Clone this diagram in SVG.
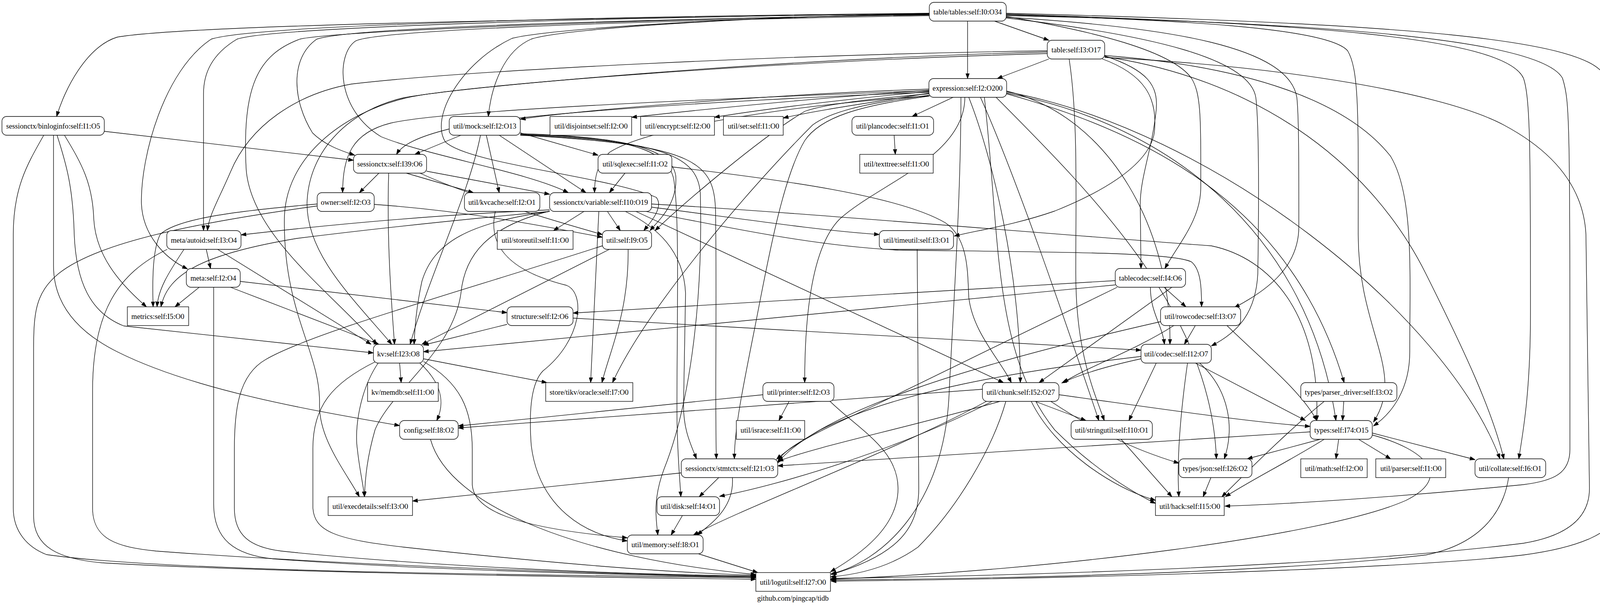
<svg xmlns="http://www.w3.org/2000/svg" width="4135" height="1548" viewBox="0 0 4135 1548">
<style>
.n rect{fill:#fff;stroke:#000;stroke-width:1.33}
.n text,.lbl{font-family:"Liberation Serif","Times New Roman",serif;font-size:18.67px;text-anchor:middle;fill:#000}
#edges path{fill:none;stroke:#000;stroke-width:1.33;marker-end:url(#ah)}
</style>
<defs>
<marker id="ah" viewBox="0 0 14 10" refX="13.3" refY="5" markerWidth="14" markerHeight="10" markerUnits="userSpaceOnUse" orient="auto">
<path d="M0,0.33 L13.3,5 L0,9.67 z" fill="#000" stroke="#000" stroke-width="1"/>
</marker>
</defs>
<rect x="0" y="0" width="4135" height="1548" fill="#fff"/>
<g id="edges">
<path d="M2546 54 L2685 103"/>
<path d="M2477 54 L2477 201"/>
<path d="M2379 34 C1700 45 500 60 300 95 C220 120 165 230 145 298"/>
<path d="M2379 36 C2000 40 1450 70 1360 100 C1290 130 1258 220 1250 298"/>
<path d="M2379 38 C1600 50 900 70 811 100 C740 150 750 260 800 340 C830 370 870 385 908 397"/>
<path d="M2379 40 C1500 55 960 80 910 105 C860 140 860 280 976 350 C1100 400 1350 440 1455 493"/>
<path d="M2379 35 C1500 45 700 70 607 100 C540 140 521 190 521 240 L521 590"/>
<path d="M2379 34 C1500 42 650 65 541 100 C420 180 360 400 362 520 C365 600 420 660 480 688"/>
<path d="M2379 37 C1600 50 850 80 768 100 C660 140 620 220 630 430 C640 600 850 750 965 881"/>
<path d="M2379 36 C2000 40 1420 70 1311 98 C1180 160 1100 300 1140 363 C1200 420 1550 450 1680 505 C1700 530 1665 570 1648 590"/>
<path d="M2576 42 C2800 80 3000 130 3050 200 C3075 240 3074 300 3074 480 C3074 560 3020 620 2982 687"/>
<path d="M2576 44 C3000 70 3300 120 3320 250 C3325 300 3325 400 3325 580 C3325 680 3250 740 3160 787"/>
<path d="M2576 46 C2950 90 3200 150 3215 250 C3223 320 3223 500 3220 700 C3215 800 3170 850 3101 885"/>
<path d="M2576 38 C3000 50 3400 70 3450 130 C3480 180 3477 300 3477 600 C3477 850 3600 950 3516 1080"/>
<path d="M2576 36 C3300 60 3850 90 3900 200 C3918 250 3918 400 3918 800 C3918 1000 3900 1100 3888 1174"/>
<path d="M2576 34 C3600 60 4080 100 4110 200 C4128 260 4130 320 4130 1320 C4130 1360 4050 1400 3900 1420 C3600 1455 2800 1480 2128 1487"/>
<path d="M2576 40 C3500 60 3950 110 4000 200 C4019 260 4019 300 4019 1150 C4019 1210 3980 1230 3900 1240 C3600 1270 3300 1290 3136 1295"/>
<path d="M2685 151 L2553 201"/>
<path d="M2681 130 C2000 140 1200 180 900 215 C760 240 640 320 590 440 C560 510 535 550 531 590"/>
<path d="M2681 133 C2000 150 1200 220 1034 250 C900 280 790 380 786 520 C785 650 900 760 1003 881"/>
<path d="M2681 137 C2000 155 1150 220 1034 252 C880 290 730 400 728 560 C725 800 820 900 818 1032 C815 1120 880 1200 920 1271"/>
<path d="M2820 150 C2930 190 2965 250 2955 340 C2940 430 2800 500 2700 540 C2600 575 2500 590 2443 604"/>
<path d="M2828 143 C2940 180 2965 220 2960 280 C2950 380 2920 450 2919 520 L2921 687"/>
<path d="M2828 147 C3300 170 3700 240 3850 320 C4000 400 4055 500 4060 600 L4069 1250 C4069 1320 4020 1370 3900 1390 C3500 1440 2800 1470 2128 1480"/>
<path d="M2828 145 C3200 200 3500 400 3650 700 C3750 900 3820 1050 3850 1175"/>
<path d="M2737 151 C2760 300 2754 500 2754 700 C2754 900 2800 1000 2827 1076"/>
<path d="M2828 142 C3200 170 3450 260 3560 400 C3620 500 3609 700 3609 900 C3609 1000 3560 1060 3516 1090"/>
<path d="M2378 228 C2000 240 1500 280 1332 305"/>
<path d="M2378 231 C2100 250 1800 280 1617 300"/>
<path d="M2378 234 C2150 255 1950 280 1829 300"/>
<path d="M2380 238 C2250 260 2100 280 2005 302"/>
<path d="M2378 232 C1900 250 1150 280 1000 315 C900 340 878 400 877 493"/>
<path d="M2378 236 C1900 255 1300 290 1150 330 C1070 350 1030 370 1015 395"/>
<path d="M2385 245 C2000 270 1650 330 1560 390 C1530 420 1522 450 1522 493"/>
<path d="M2378 240 C2200 255 2100 270 2060 285 C1950 350 1750 520 1677 590"/>
<path d="M2378 244 C2200 265 2120 290 2080 320 C1900 500 1650 800 1568 979"/>
<path d="M2470 249 C2470 400 2250 470 2150 560 C2070 640 2060 850 2060 979"/>
<path d="M2480 249 C2540 400 2612 700 2612 979"/>
<path d="M2510 249 C2600 450 2720 800 2813 1076"/>
<path d="M2550 249 C2800 500 3100 800 3114 1174"/>
<path d="M2577 240 C2900 330 3300 500 3441 979"/>
<path d="M2577 238 C3000 320 3350 600 3420 1076"/>
<path d="M2577 233 C2850 300 3000 600 2995 881"/>
<path d="M2577 235 C3100 330 3700 800 3840 1174"/>
<path d="M2520 249 C2560 600 2540 900 2700 1100 C2800 1200 2900 1260 2958 1288"/>
<path d="M2378 246 C2200 270 2100 300 2060 360 C2000 460 1960 700 1930 850 C1900 1000 1880 1100 1880 1174"/>
<path d="M2460 249 C2460 500 2440 800 2430 1000 C2420 1300 2250 1440 2128 1468"/>
<path d="M2440 249 L2335 298"/>
<path d="M267 336 L905 410"/>
<path d="M112 346 C70 420 34 480 34 600 L34 1300 C34 1360 70 1400 119 1419 C400 1460 1200 1470 1935 1478"/>
<path d="M137 346 L137 680 C137 780 200 850 300 900 C500 1000 800 1050 1023 1089"/>
<path d="M146 346 C170 420 187 480 190 600 C195 720 230 800 317 834 L956 903"/>
<path d="M165 346 C210 420 237 470 240 560 C245 650 300 720 375 785"/>
<path d="M1180 346 L1062 395"/>
<path d="M1332 340 L1531 397"/>
<path d="M1245 346 L1278 493"/>
<path d="M1278 346 L1500 493"/>
<path d="M1230 346 C1200 500 1100 700 1050 881"/>
<path d="M1332 342 C1600 350 1720 380 1730 450 C1735 520 1690 560 1664 590"/>
<path d="M1332 344 C1600 350 1710 380 1725 460 C1740 560 1733 800 1733 1050 C1733 1150 1740 1220 1743 1271"/>
<path d="M1332 345 C1700 360 1790 400 1793 500 C1800 800 1760 1050 1700 1200 C1670 1280 1680 1330 1684 1369"/>
<path d="M1332 346 C1800 370 1830 420 1832 550 C1835 800 1830 1050 1834 1174"/>
<path d="M2289 346 L2292 395"/>
<path d="M970 443 L920 493"/>
<path d="M1040 443 L1212 493"/>
<path d="M1092 438 L1407 497"/>
<path d="M1075 443 C1200 500 1400 560 1542 600"/>
<path d="M995 443 C990 600 1000 750 1010 881"/>
<path d="M1600 443 L1560 493"/>
<path d="M1720 427 C2000 460 2300 500 2420 570 C2480 610 2477 700 2480 760 C2490 850 2560 920 2589 979"/>
<path d="M958 523 C1200 540 1400 580 1542 607"/>
<path d="M812 522 C600 540 450 560 410 600 C390 640 390 720 392 785"/>
<path d="M812 527 C500 570 250 620 150 700 C90 750 86 800 86 900 L86 1320 C86 1400 150 1430 260 1440 C600 1460 1300 1475 1935 1482"/>
<path d="M1268 541 C1250 620 1290 690 1450 730 C1500 750 1490 870 1390 949 C1350 990 1357 1100 1360 1140 C1380 1300 1500 1370 1606 1384"/>
<path d="M1407 537 C1100 550 800 580 617 601"/>
<path d="M1407 541 C1200 560 1000 580 760 610 C520 650 430 700 412 785"/>
<path d="M1495 541 L1417 590"/>
<path d="M1555 541 L1588 590"/>
<path d="M1668 530 C1900 560 2100 590 2251 600"/>
<path d="M1407 541 C1200 570 1110 620 1080 720 C1065 790 1062 840 1060 881"/>
<path d="M1533 541 L1512 979"/>
<path d="M1628 541 L2569 979"/>
<path d="M1601 541 C1680 580 1750 640 1755 750 L1750 1030 C1748 1100 1770 1140 1783 1174"/>
<path d="M1407 540 C1250 580 1190 650 1180 750 C1160 900 1000 1000 960 1100 C940 1170 935 1220 933 1271"/>
<path d="M1654 541 C1900 590 2100 630 2300 640 C2700 645 3000 645 3050 670 C3075 690 3076 740 3076 785"/>
<path d="M1668 522 C2000 540 2700 600 3101 629 C3250 660 3380 800 3371 1076"/>
<path d="M1560 638 L1080 881"/>
<path d="M1608 638 C1610 800 1560 900 1541 979"/>
<path d="M1542 629 C1200 740 800 850 680 920 C610 960 600 1050 600 1150 L600 1300 C600 1370 640 1400 720 1410 C1100 1450 1600 1470 1935 1474"/>
<path d="M471 638 C430 700 405 740 402 785"/>
<path d="M528 638 L539 687"/>
<path d="M557 638 L950 881"/>
<path d="M428 638 C300 700 237 800 237 1000 L237 1300 C237 1380 300 1400 400 1410 C800 1440 1400 1465 1935 1476"/>
<path d="M510 735 L448 785"/>
<path d="M590 735 L970 881"/>
<path d="M615 720 L1298 800"/>
<path d="M547 735 L547 1290 C547 1380 600 1420 700 1430 C1100 1460 1600 1470 1935 1478"/>
<path d="M2348 638 L2352 1250 C2352 1350 2300 1420 2128 1470"/>
<path d="M2855 729 L1084 900"/>
<path d="M2855 718 L1467 801"/>
<path d="M2980 735 L3036 785"/>
<path d="M2945 735 C2945 800 2975 830 2981 881"/>
<path d="M2860 735 L2250 1032 C2150 1080 2050 1120 1988 1175"/>
<path d="M3000 735 L2660 979"/>
<path d="M1298 830 L1084 883"/>
<path d="M1467 814 L2921 896"/>
<path d="M3060 833 L3032 881"/>
<path d="M3005 833 C2900 900 2780 940 2722 979"/>
<path d="M3141 833 C3230 920 3330 1000 3371 1076"/>
<path d="M2971 823 C2500 930 2100 1050 1990 1185"/>
<path d="M1023 929 L1027 979"/>
<path d="M1084 918 L1400 979"/>
<path d="M1075 929 C1130 980 1140 1030 1118 1076"/>
<path d="M968 929 C920 1000 907 1100 915 1150 C920 1200 930 1240 933 1271"/>
<path d="M1084 925 C1180 980 1209 1050 1209 1150 L1209 1240 C1212 1300 1300 1350 1606 1376"/>
<path d="M962 925 C850 980 800 1040 801 1150 L801 1300 C805 1360 860 1380 1034 1400 C1400 1440 1700 1465 1935 1472"/>
<path d="M2921 918 C2820 940 2760 960 2718 980"/>
<path d="M2960 929 L2890 1076"/>
<path d="M3060 929 L3342 1076"/>
<path d="M3040 929 C3030 1000 3010 1150 3018 1271"/>
<path d="M2921 912 C2600 950 2300 1000 2100 1100 C2050 1130 2010 1150 1992 1178"/>
<path d="M3071 929 C3150 1000 3160 1100 3134 1174"/>
<path d="M1953 1010 L1173 1090"/>
<path d="M2020 1027 L1994 1076"/>
<path d="M2125 1027 C2200 1100 2299 1150 2299 1250 C2299 1350 2200 1420 2126 1463"/>
<path d="M2515 996 L1173 1095"/>
<path d="M2650 1027 L2780 1076"/>
<path d="M2711 1010 C3000 1050 3200 1080 3354 1091"/>
<path d="M2690 1027 C2800 1100 2900 1150 3018 1185"/>
<path d="M2560 1027 C2300 1100 2100 1140 1992 1180"/>
<path d="M2540 1027 C2300 1150 2000 1240 1842 1270"/>
<path d="M2525 1027 C2300 1150 1900 1300 1775 1369"/>
<path d="M2640 1027 C2700 1150 2850 1250 2958 1280"/>
<path d="M2575 1027 C2540 1150 2450 1300 2350 1400 C2280 1450 2200 1470 2126 1476"/>
<path d="M3440 1027 L3437 1076"/>
<path d="M3390 1027 C3300 1100 3200 1200 3128 1271"/>
<path d="M2870 1124 L3000 1271"/>
<path d="M3354 1105 C3000 1130 2500 1160 1991 1192"/>
<path d="M3380 1124 L3193 1174"/>
<path d="M3427 1124 L3420 1174"/>
<path d="M3478 1124 L3560 1174"/>
<path d="M3513 1108 L3776 1176"/>
<path d="M3390 1124 C3300 1180 3200 1230 3137 1271"/>
<path d="M3513 1113 C3650 1150 3720 1220 3600 1280 C3400 1370 2700 1460 2126 1482"/>
<path d="M1744 1210 L1056 1282"/>
<path d="M1840 1222 L1790 1271"/>
<path d="M1875 1222 C1880 1300 1820 1340 1785 1369"/>
<path d="M3100 1222 L3080 1271"/>
<path d="M3862 1222 C3850 1300 3800 1390 3650 1420 C3300 1460 2700 1480 2126 1484"/>
<path d="M1747 1319 L1718 1369"/>
<path d="M1788 1417 L1940 1465"/>
<path d="M1102 1124 C1150 1300 1500 1430 1935 1470"/>
</g>
<g id="n-table-tables" class="n"><rect x="2379" y="6" width="197" height="48" rx="12"/><text x="2477" y="36.5">table/tables:self:I0:O34</text></g>
<g id="n-table" class="n"><rect x="2681" y="103" width="147" height="48" rx="12"/><text x="2755" y="133.5">table:self:I3:O17</text></g>
<g id="n-expression" class="n"><rect x="2378" y="201" width="199" height="48" rx="12"/><text x="2477" y="231.5">expression:self:I2:O200</text></g>
<g id="n-binloginfo" class="n"><rect x="5" y="298" width="262" height="48" rx="12"/><text x="136" y="328.5">sessionctx/binloginfo:self:I1:O5</text></g>
<g id="n-mock" class="n"><rect x="1150" y="298" width="182" height="48" rx="12"/><text x="1241" y="328.5">util/mock:self:I2:O13</text></g>
<g id="n-disjointset" class="n"><rect x="1408" y="298" width="209" height="48"/><text x="1513" y="328.5">util/disjointset:self:I2:O0</text></g>
<g id="n-encrypt" class="n"><rect x="1640" y="298" width="189" height="48"/><text x="1735" y="328.5">util/encrypt:self:I2:O0</text></g>
<g id="n-set" class="n"><rect x="1852" y="298" width="153" height="48"/><text x="1929" y="328.5">util/set:self:I1:O0</text></g>
<g id="n-plancodec" class="n"><rect x="2181" y="298" width="209" height="48" rx="12"/><text x="2285" y="328.5">util/plancodec:self:I1:O1</text></g>
<g id="n-sessionctx" class="n"><rect x="905" y="395" width="187" height="48" rx="12"/><text x="998" y="425.5">sessionctx:self:I39:O6</text></g>
<g id="n-sqlexec" class="n"><rect x="1531" y="395" width="189" height="48" rx="12"/><text x="1626" y="425.5">util/sqlexec:self:I1:O2</text></g>
<g id="n-texttree" class="n"><rect x="2201" y="395" width="188" height="48"/><text x="2295" y="425.5">util/texttree:self:I1:O0</text></g>
<g id="n-owner" class="n"><rect x="812" y="493" width="146" height="48" rx="12"/><text x="885" y="523.5">owner:self:I2:O3</text></g>
<g id="n-kvcache" class="n"><rect x="1189" y="493" width="193" height="48" rx="12"/><text x="1285" y="523.5">util/kvcache:self:I2:O1</text></g>
<g id="n-variable" class="n"><rect x="1407" y="493" width="261" height="48" rx="12"/><text x="1538" y="523.5">sessionctx/variable:self:I10:O19</text></g>
<g id="n-autoid" class="n"><rect x="427" y="590" width="190" height="48" rx="12"/><text x="522" y="620.5">meta/autoid:self:I3:O4</text></g>
<g id="n-storeutil" class="n"><rect x="1273" y="590" width="194" height="48"/><text x="1370" y="620.5">util/storeutil:self:I1:O0</text></g>
<g id="n-util" class="n"><rect x="1542" y="590" width="126" height="48" rx="12"/><text x="1605" y="620.5">util:self:I9:O5</text></g>
<g id="n-timeutil" class="n"><rect x="2251" y="590" width="190" height="48" rx="12"/><text x="2346" y="620.5">util/timeutil:self:I3:O1</text></g>
<g id="n-meta" class="n"><rect x="477" y="687" width="138" height="48" rx="12"/><text x="546" y="717.5">meta:self:I2:O4</text></g>
<g id="n-tablecodec" class="n"><rect x="2855" y="687" width="180" height="48" rx="12"/><text x="2945" y="717.5">tablecodec:self:I4:O6</text></g>
<g id="n-metrics" class="n"><rect x="326" y="785" width="157" height="48"/><text x="404" y="815.5">metrics:self:I5:O0</text></g>
<g id="n-structure" class="n"><rect x="1298" y="785" width="169" height="48" rx="12"/><text x="1382" y="815.5">structure:self:I2:O6</text></g>
<g id="n-rowcodec" class="n"><rect x="2971" y="785" width="205" height="48" rx="12"/><text x="3073" y="815.5">util/rowcodec:self:I3:O7</text></g>
<g id="n-kv" class="n"><rect x="956" y="881" width="128" height="48" rx="12"/><text x="1020" y="911.5">kv:self:I23:O8</text></g>
<g id="n-codec" class="n"><rect x="2921" y="881" width="180" height="48" rx="12"/><text x="3011" y="911.5">util/codec:self:I12:O7</text></g>
<g id="n-memdb" class="n"><rect x="941" y="979" width="181" height="48"/><text x="1031" y="1009.5">kv/memdb:self:I1:O0</text></g>
<g id="n-oracle" class="n"><rect x="1397" y="979" width="223" height="48"/><text x="1508" y="1009.5">store/tikv/oracle:self:I7:O0</text></g>
<g id="n-printer" class="n"><rect x="1953" y="979" width="182" height="48" rx="12"/><text x="2044" y="1009.5">util/printer:self:I2:O3</text></g>
<g id="n-chunk" class="n"><rect x="2515" y="979" width="196" height="48" rx="12"/><text x="2613" y="1009.5">util/chunk:self:I52:O27</text></g>
<g id="n-parser_driver" class="n"><rect x="3330" y="979" width="246" height="48" rx="12"/><text x="3453" y="1009.5">types/parser_driver:self:I3:O2</text></g>
<g id="n-config" class="n"><rect x="1023" y="1076" width="150" height="48" rx="12"/><text x="1098" y="1106.5">config:self:I8:O2</text></g>
<g id="n-israce" class="n"><rect x="1885" y="1076" width="175" height="48"/><text x="1973" y="1106.5">util/israce:self:I1:O0</text></g>
<g id="n-stringutil" class="n"><rect x="2742" y="1076" width="208" height="48" rx="12"/><text x="2846" y="1106.5">util/stringutil:self:I10:O1</text></g>
<g id="n-types" class="n"><rect x="3354" y="1076" width="159" height="48" rx="12"/><text x="3434" y="1106.5">types:self:I74:O15</text></g>
<g id="n-stmtctx" class="n"><rect x="1744" y="1174" width="247" height="48" rx="12"/><text x="1868" y="1204.5">sessionctx/stmtctx:self:I21:O3</text></g>
<g id="n-json" class="n"><rect x="3018" y="1174" width="187" height="48" rx="12"/><text x="3111" y="1204.5">types/json:self:I26:O2</text></g>
<g id="n-math" class="n"><rect x="3330" y="1174" width="170" height="48"/><text x="3415" y="1204.5">util/math:self:I2:O0</text></g>
<g id="n-parser" class="n"><rect x="3522" y="1174" width="179" height="48"/><text x="3612" y="1204.5">util/parser:self:I1:O0</text></g>
<g id="n-collate" class="n"><rect x="3776" y="1174" width="181" height="48" rx="12"/><text x="3866" y="1204.5">util/collate:self:I6:O1</text></g>
<g id="n-execdetails" class="n"><rect x="840" y="1271" width="216" height="48"/><text x="948" y="1301.5">util/execdetails:self:I3:O0</text></g>
<g id="n-disk" class="n"><rect x="1682" y="1271" width="160" height="48" rx="12"/><text x="1762" y="1301.5">util/disk:self:I4:O1</text></g>
<g id="n-hack" class="n"><rect x="2958" y="1271" width="176" height="48"/><text x="3046" y="1301.5">util/hack:self:I15:O0</text></g>
<g id="n-memory" class="n"><rect x="1606" y="1369" width="194" height="48" rx="12"/><text x="1703" y="1399.5">util/memory:self:I8:O1</text></g>
<g id="n-logutil" class="n"><rect x="1935" y="1465" width="191" height="48"/><text x="2030" y="1495.5">util/logutil:self:I27:O0</text></g>
<text class="lbl" x="2030" y="1537">github.com/pingcap/tidb</text>
</svg>
